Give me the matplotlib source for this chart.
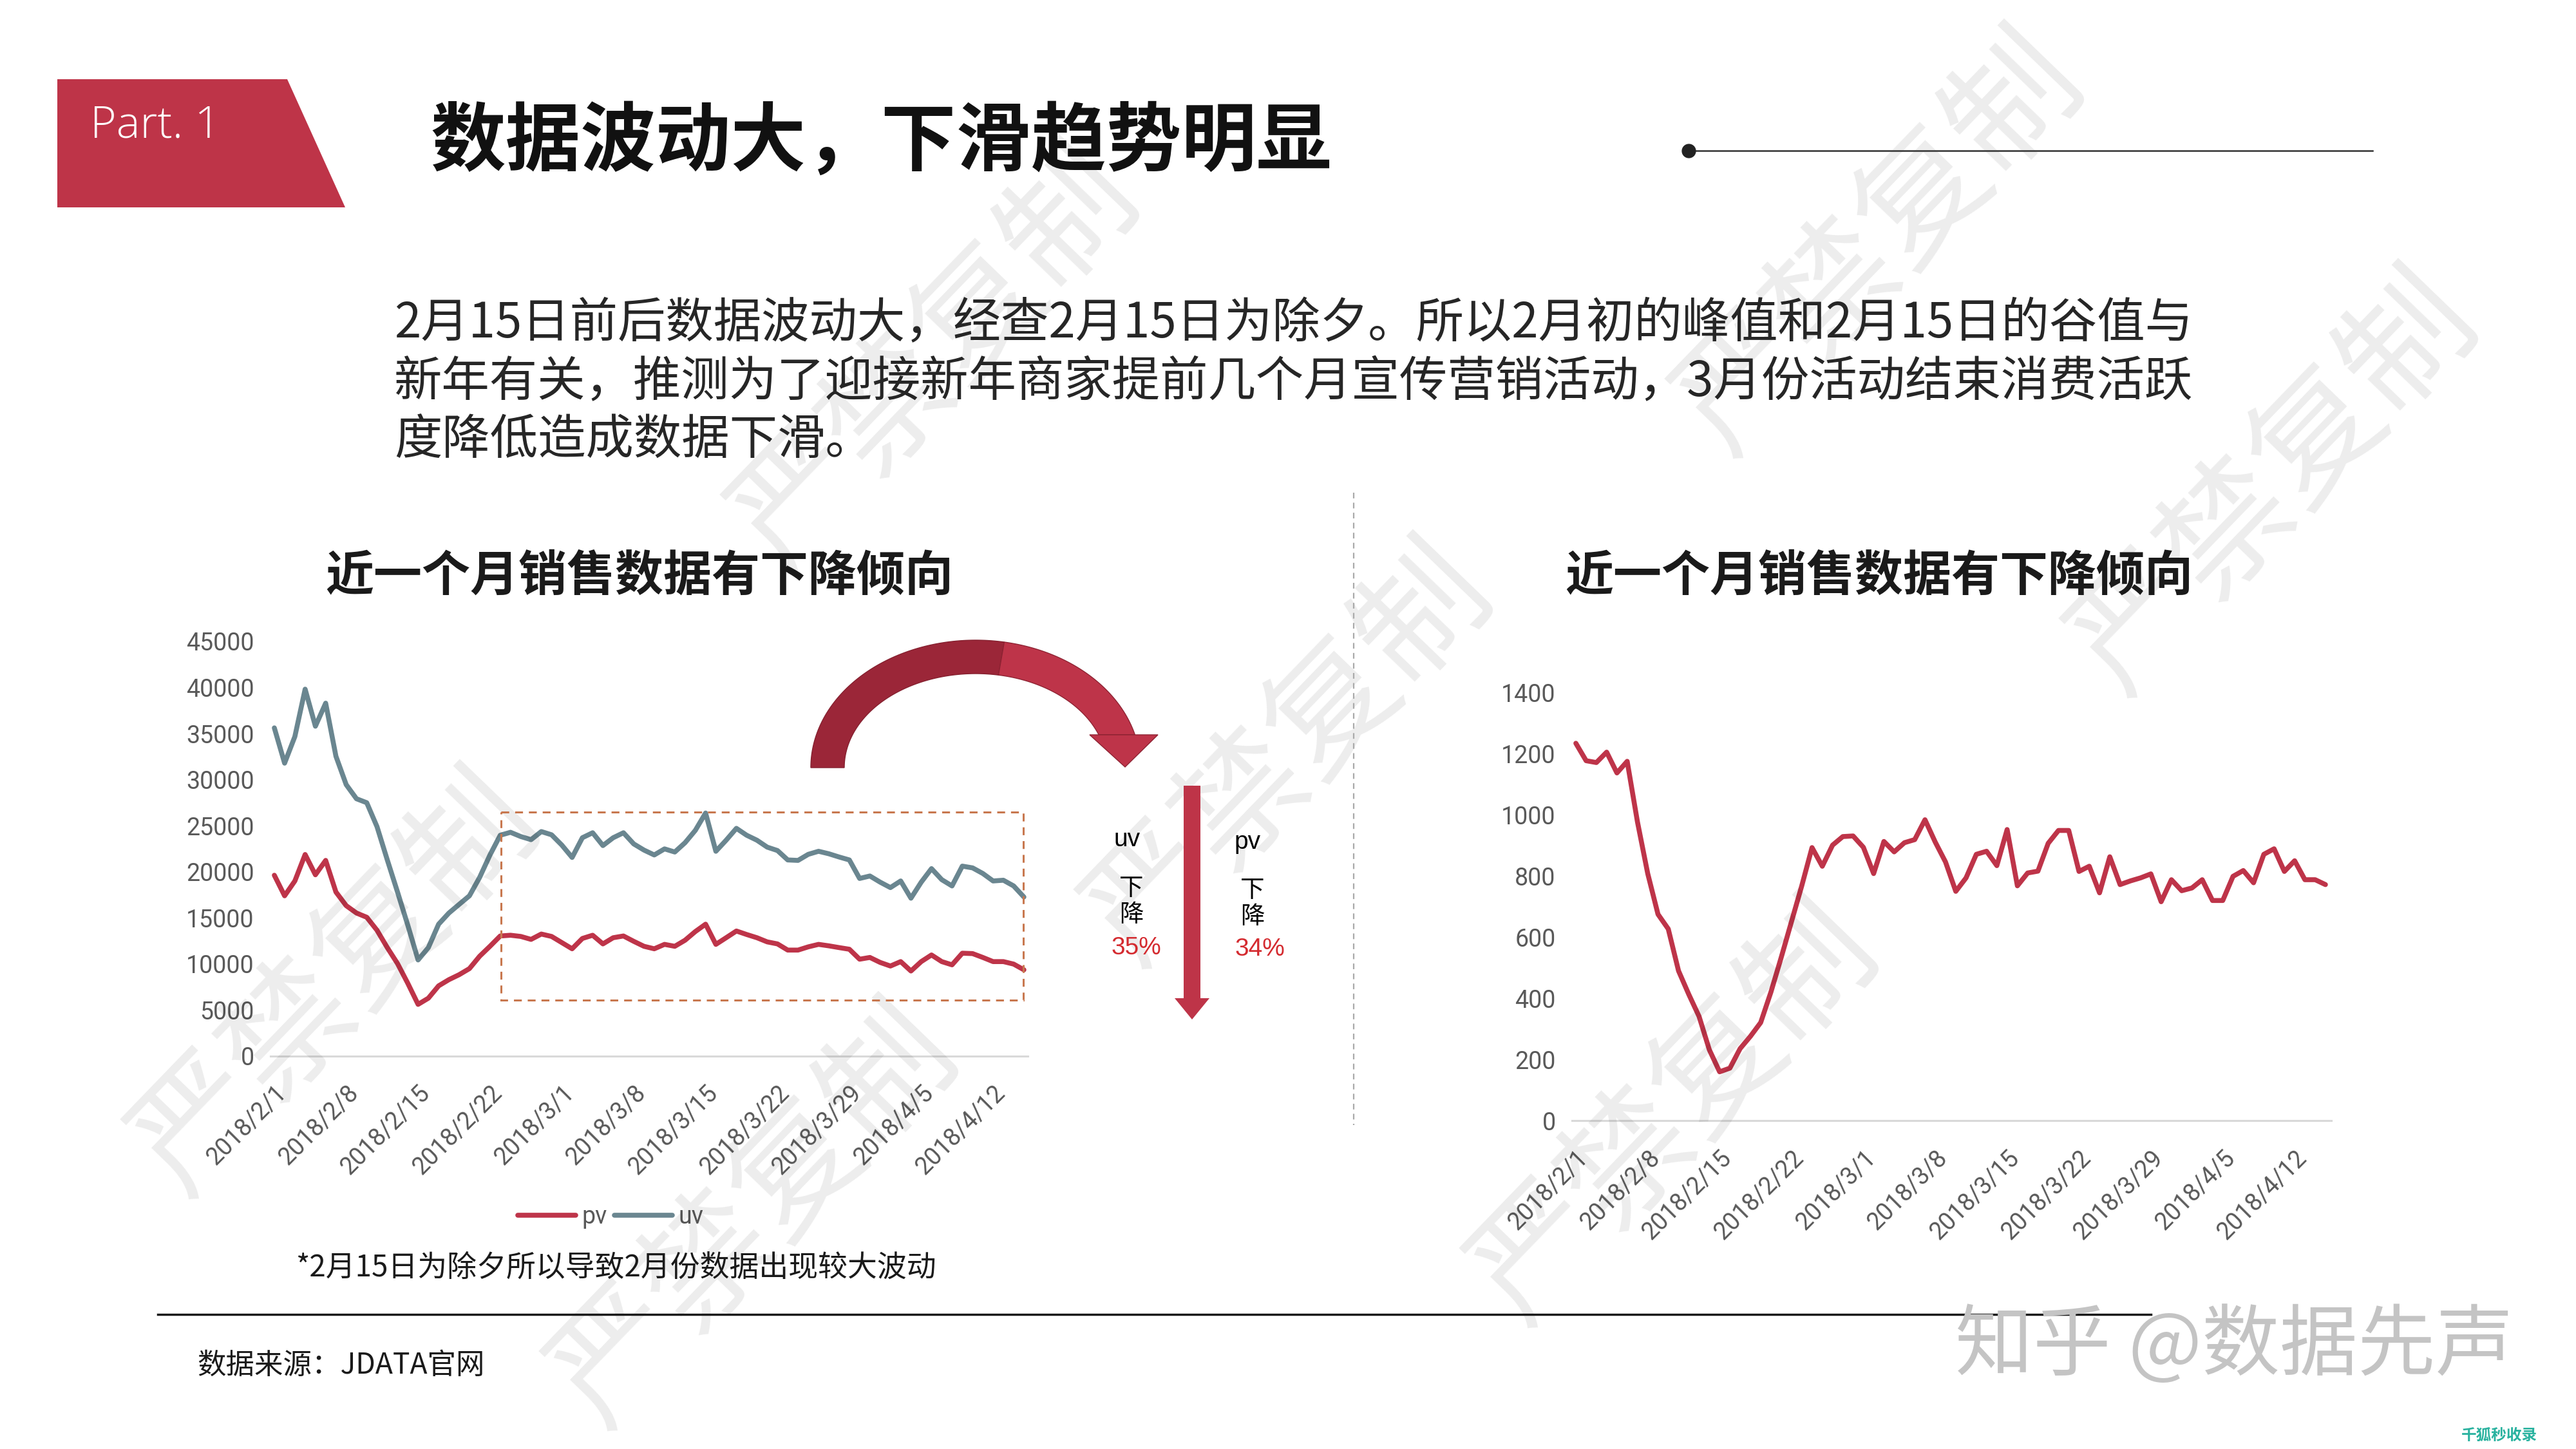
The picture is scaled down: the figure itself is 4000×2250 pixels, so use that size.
import numpy as np
import matplotlib
matplotlib.use("Agg")
import matplotlib.pyplot as plt
from matplotlib.patches import Polygon, Rectangle

plt.rcParams['font.family'] = ['Noto Sans CJK SC', 'DejaVu Sans']

# ---------------- data ----------------
pv_left = [19630, 17400, 19010, 21880, 19680, 21240, 17810, 16330, 15530, 15070,
           13660, 11780, 10040, 7900, 5620, 6290, 7630, 8300, 8840, 9500,
           10850, 11920, 13040, 13120, 12990, 12670, 13250, 12990, 12320, 11650,
           12770, 13120, 12180, 12850, 13040, 12460, 11920, 11650, 12130, 11920,
           12580, 13520, 14320, 12130, 12850, 13580, 13200, 12850, 12400, 12180,
           11510, 11510, 11860, 12130, 11970, 11780, 11600, 10520, 10710, 10170,
           9780, 10260, 9240, 10260, 10980, 10260, 9910, 11170, 11130, 10710,
           10260, 10260, 9990, 9370]
uv_left = [35620, 31790, 34680, 39820, 35800, 38300, 32540, 29460, 27930, 27500,
           24900, 21300, 17800, 14200, 10440, 11780, 14320, 15530, 16470, 17400,
           19410, 21830, 23970, 24290, 23830, 23490, 24370, 24020, 22900, 21560,
           23700, 24240, 22850, 23700, 24240, 23030, 22360, 21830, 22490, 22150,
           23160, 24500, 26380, 22230, 23430, 24720, 23970, 23430, 22680, 22310,
           21290, 21240, 21900, 22230, 21960, 21610, 21290, 19280, 19550, 18880,
           18290, 19010, 17140, 18880, 20350, 19150, 18470, 20620, 20430, 19820,
           19010, 19090, 18470, 17270]
pv_right = [1234, 1177, 1171, 1205, 1137, 1175, 977, 808, 675, 627,
            490, 413, 341, 232, 160, 172, 236, 276, 321, 421,
            534, 651, 768, 893, 832, 901, 929, 931, 894, 808,
            913, 879, 909, 919, 984, 911, 846, 750, 794, 871,
            881, 834, 952, 768, 810, 816, 907, 949, 949, 815,
            832, 745, 863, 772, 784, 794, 807, 716, 788, 752,
            761, 788, 720, 720, 799, 818, 778, 871, 889, 815,
            850, 788, 788, 772]
date_ticks = ['2018/2/1', '2018/2/8', '2018/2/15', '2018/2/22', '2018/3/1', '2018/3/8',
              '2018/3/15', '2018/3/22', '2018/3/29', '2018/4/5', '2018/4/12']
left_yticks = list(range(0, 45001, 5000))
right_yticks = list(range(0, 1401, 200))
series_names = ['pv', 'uv']

PV_C = '#BE3449'
UV_C = '#6A8690'
TICK_C = '#595959'

W, H = 4000, 2250
fig = plt.figure(figsize=(40, 22.5), dpi=100)
fig.patch.set_facecolor('white')

x = np.arange(len(pv_left))
tick_pos = np.arange(0, 7 * len(date_ticks), 7)


def style_axes(ax, yticks, ylim, xlim):
    ax.set_xlim(*xlim)
    ax.set_ylim(*ylim)
    for s in ['top', 'right', 'left']:
        ax.spines[s].set_visible(False)
    ax.spines['bottom'].set_color('#D9D9D9')
    ax.spines['bottom'].set_linewidth(2.2)
    ax.set_yticks(yticks)
    ax.set_yticklabels([str(v) for v in yticks])
    ax.set_xticks(tick_pos)
    ax.set_xticklabels(date_ticks, rotation=45, ha='right', va='top',
                       rotation_mode='anchor')
    ax.tick_params(axis='y', length=0, pad=18, labelsize=27, labelcolor=TICK_C)
    ax.tick_params(axis='x', length=0, pad=28, labelsize=27, labelcolor=TICK_C)
    for lab in ax.get_xticklabels() + ax.get_yticklabels():
        lab.set_fontfamily('Roboto')
    ax.set_facecolor('none')


# ---------------- left chart ----------------
axL = fig.add_axes([419.6 / W, (H - 1640) / H, 1176.7 / W, (1640 - 996) / H])
lpv, = axL.plot(x, pv_left, color=PV_C, lw=5.5, solid_capstyle='round',
                solid_joinstyle='round', label=series_names[0], zorder=3)
luv, = axL.plot(x, uv_left, color=UV_C, lw=5.5, solid_capstyle='round',
                solid_joinstyle='round', label=series_names[1], zorder=3)
style_axes(axL, left_yticks, (0, 45000), (-0.4, 73.4))
leg = axL.legend(handles=[lpv, luv], loc='center',
                 bbox_to_anchor=(948 / W, 1 - 1890 / H), bbox_transform=fig.transFigure,
                 ncol=2, frameon=False, handlelength=2.4, handletextpad=0.25,
                 columnspacing=0.3, prop={'family': 'Roboto', 'size': 27},
                 labelcolor=TICK_C)

# ---------------- right chart ----------------
axR = fig.add_axes([2440.6 / W, (H - 1740.3) / H, 1179.1 / W, (1740.3 - 1075.3) / H])
axR.plot(x, pv_right, color=PV_C, lw=5.5, solid_capstyle='round',
         solid_joinstyle='round', zorder=3)
style_axes(axR, right_yticks, (0, 1400), (-0.4, 73.55))

# ---------------- overlay (pixel coordinates) ----------------
ov = fig.add_axes([0, 0, 1, 1], zorder=5)
ov.set_xlim(0, W)
ov.set_ylim(H, 0)
ov.axis('off')
ov.patch.set_alpha(0)

# watermarks (light)
wm = [(523, 1530), (1454, 560), (2921, 380), (3533, 752), (2003, 1173),
      (2602, 1730), (1173, 1890)]
for (wx, wy) in wm:
    ov.text(wx, wy, '严禁复制', fontsize=145, rotation=46, color='black', alpha=0.075,
            ha='center', va='center', rotation_mode='anchor', fontweight='light',
            zorder=0)

# badge
ov.add_patch(Polygon([(89, 123), (446, 123), (536, 322), (89, 322)], closed=True,
                     facecolor='#BE3448', edgecolor='none'))
ov.text(140, 195, 'Part. 1', color='white', fontsize=50, va='center', ha='left',
        family=['Open Sans', 'DejaVu Sans'], fontweight='light')

# title
ov.text(668, 222, '数据波动大，下滑趋势明显', fontsize=84, fontweight='bold',
        color='#111111', va='center', ha='left')
ov.plot([2622, 3684], [234, 234], color='#333333', lw=1.8)
ov.plot([2622], [234], 'o', color='#222222', markersize=15)

# paragraph
para = ['2月15日前后数据波动大，经查2月15日为除夕。所以2月初的峰值和2月15日的谷值与',
        '新年有关，推测为了迎接新年商家提前几个月宣传营销活动，3月份活动结束消费活跃',
        '度降低造成数据下滑。']
for i, line in enumerate(para):
    ov.text(612, 503 + 90.5 * i, line, fontsize=53.6, color='#262626',
            va='center', ha='left', fontweight='light')

# divider
ov.plot([2102, 2102], [765, 1747], color='#AAAAAA', lw=1.6, ls=(0, (4, 3)))

# subtitles
ov.text(993, 895, '近一个月销售数据有下降倾向', fontsize=54, fontweight='bold',
        color='#1a1a1a', ha='center', va='center')
ov.text(2918, 895, '近一个月销售数据有下降倾向', fontsize=54, fontweight='bold',
        color='#1a1a1a', ha='center', va='center')

# dashed rectangle
ov.add_patch(Rectangle((778, 1261), 1589 - 778, 1553 - 1261, fill=False,
                       edgecolor='#C8784F', lw=2.2, ls=(0, (4, 3))))

# curved arrow (ribbon)
cx, cy = 1515, 1192
a_o, b_o, a_i, b_i = 256, 198, 204, 146
yend = 1141
t_out_end = np.arcsin((cy - yend) / b_o)
t_in_end = np.arcsin((cy - yend) / b_i)
split = np.radians(80)


def ribbon(t0_o, t1_o, t0_i, t1_i):
    to = np.linspace(t0_o, t1_o, 120)
    ti = np.linspace(t1_i, t0_i, 120)
    pts = [(cx + a_o * np.cos(t), cy - b_o * np.sin(t)) for t in to]
    pts += [(cx + a_i * np.cos(t), cy - b_i * np.sin(t)) for t in ti]
    return pts


ov.add_patch(Polygon(ribbon(np.pi, split, np.pi, split), closed=True,
                     facecolor='#9B2638', edgecolor='#85202F', lw=1))
ov.add_patch(Polygon(ribbon(split, t_out_end, split, t_in_end), closed=True,
                     facecolor='#BE3449', edgecolor='#8E2333', lw=1))
ov.add_patch(Polygon([(1692, yend), (1798, yend), (1747, 1191)], closed=True,
                     facecolor='#BE3449', edgecolor='#8E2333', lw=1))

# vertical arrow
ov.add_patch(Polygon([(1838, 1220), (1864, 1220), (1864, 1550), (1878, 1550),
                      (1851, 1583), (1824, 1550), (1838, 1550)], closed=True,
                     facecolor='#BE3448', edgecolor='none'))
ov.text(1750, 1304, 'uv', fontsize=28, ha='center', va='center', color='black',
        family=['Liberation Sans', 'DejaVu Sans'])
ov.text(1757, 1400, '下\n降', fontsize=27, ha='center', va='center', color='black',
        linespacing=1.05)
ov.text(1764, 1472, '35%', fontsize=28, ha='center', va='center', color='#D42A2F',
        family=['Liberation Sans', 'DejaVu Sans'])
ov.text(1937, 1308, 'pv', fontsize=28, ha='center', va='center', color='black',
        family=['Liberation Sans', 'DejaVu Sans'])
ov.text(1945, 1403, '下\n降', fontsize=27, ha='center', va='center', color='black',
        linespacing=1.05)
ov.text(1956, 1474, '34%', fontsize=28, ha='center', va='center', color='#D42A2F',
        family=['Liberation Sans', 'DejaVu Sans'])

# footnote, bottom rule, source
ov.text(459, 1969, '*2月15日为除夕所以导致2月份数据出现较大波动', fontsize=33,
        color='#1a1a1a', ha='left', va='center')
ov.plot([245, 3340], [2041, 2041], color='#1a1a1a', lw=2.5)
ov.text(306, 2120, '数据来源：JDATA官网', fontsize=32, color='#1a1a1a',
        ha='left', va='center')

ov.text(3036, 2092, '知乎 @数据先声', fontsize=87, color='#C4C4C4', ha='left',
        va='center')
ov.text(3822, 2229, '千狐秒收录', fontsize=17, color='#29B29F', ha='left',
        va='center', fontweight='bold', style='italic')

fig.savefig('out.png', dpi=100)
